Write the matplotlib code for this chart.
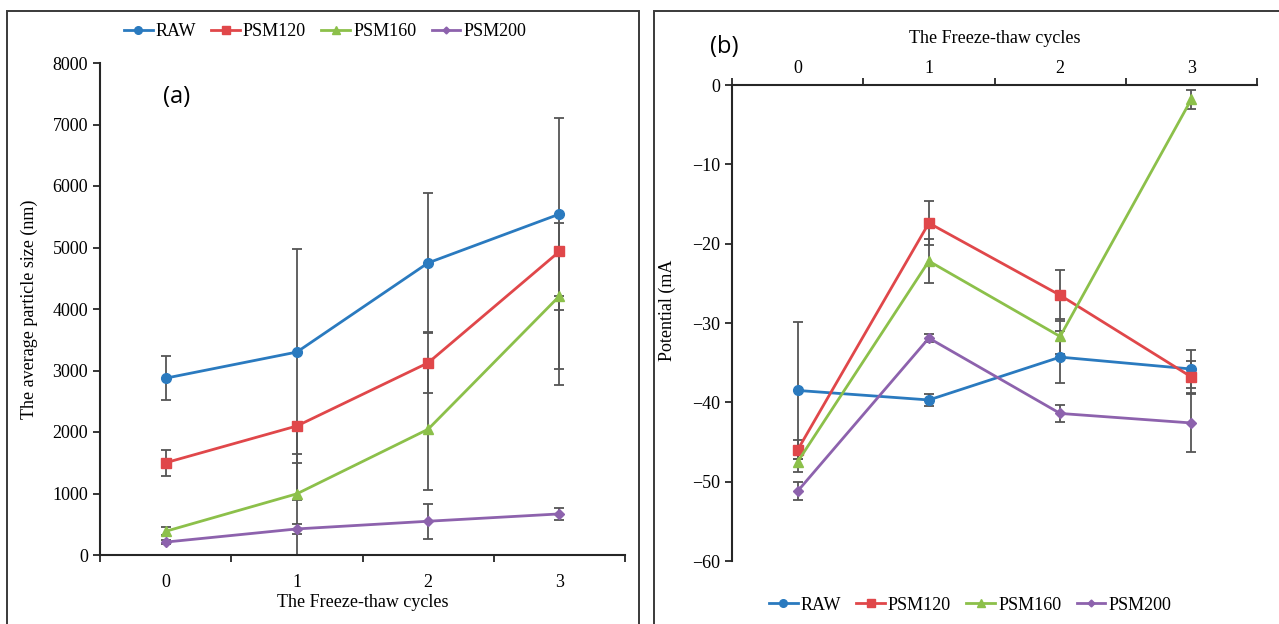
import matplotlib
matplotlib.use('Agg')
import matplotlib.pyplot as plt
from matplotlib.patches import Rectangle
from matplotlib.lines import Line2D
import numpy as np

plt.rcParams['font.family'] = ['Liberation Serif', 'DejaVu Serif']

cycles = [0, 1, 2, 3]
series = ['RAW', 'PSM120', 'PSM160', 'PSM200']
colors = ['#2a7abf', '#e0474a', '#8cc04a', '#8d62ad']
markers = ['o', 's', '^', 'D']
msizes = [7, 7, 7, 5]

# (a) average particle size (nm)
size_raw = [2875, 3300, 4750, 5543]
size_120 = [1500, 2098, 3125, 4935]
size_160 = [385, 995, 2045, 4210]
size_200 = [210, 424, 549, 668]
size_lo = [[360, 3300, 1130, 1565],
           [210, 610, 490, 1915],
           [65, 104, 995, 1450],
           [30, 76, 285, 95]]
size_hi = [[360, 1670, 1130, 1565],
           [210, 0, 490, 465],
           [65, 650, 995, 0],
           [30, 76, 285, 95]]

# (b) potential
pot_raw = [-38.5, -39.7, -34.3, -35.8]
pot_120 = [-46.0, -17.4, -26.5, -36.8]
pot_160 = [-47.5, -22.2, -31.7, -1.8]
pot_200 = [-51.2, -31.9, -41.4, -42.6]
pot_err = [[8.6, 0.7, 3.3, 2.4],
           [1.2, 2.8, 3.2, 2.0],
           [1.3, 2.8, 2.2, 1.2],
           [1.1, 0.5, 1.1, 3.7]]

size_vals = [size_raw, size_120, size_160, size_200]
pot_vals = [pot_raw, pot_120, pot_160, pot_200]

W, H = 1279, 624
fig = plt.figure(figsize=(W / 100, H / 100), dpi=100)

# panel frames
fig.patches.append(Rectangle((7 / W, -0.05), (638.5 - 7) / W, 1.05 - 10.7 / H,
                             transform=fig.transFigure, fill=False,
                             edgecolor='#3a3a3a', lw=1.4))
fig.patches.append(Rectangle((654 / W, -0.05), 1.0, 1.05 - 10.5 / H,
                             transform=fig.transFigure, fill=False,
                             edgecolor='#3a3a3a', lw=1.4))

ax1 = fig.add_axes([100 / W, (H - 555) / H, 525 / W, (555 - 63) / H])
ax2 = fig.add_axes([732 / W, (H - 561) / H, 525 / W, (561 - 85) / H])

ecol = '#555555'
for i in range(4):
    ax1.errorbar(cycles, size_vals[i], yerr=[size_lo[i], size_hi[i]], color=colors[i],
                 marker=markers[i], ms=msizes[i], lw=2, ecolor=ecol, elinewidth=1.3,
                 capsize=3.5, capthick=1.3, label=series[i])
    ax2.errorbar(cycles, pot_vals[i], yerr=pot_err[i], color=colors[i],
                 marker=markers[i], ms=msizes[i], lw=2, ecolor=ecol, elinewidth=1.3,
                 capsize=3.5, capthick=1.3, label=series[i])

for ax in (ax1, ax2):
    ax.set_xlim(-0.5, 3.5)
    ax.set_xticks(cycles)
    ax.set_xticks(np.arange(-0.5, 3.6, 1), minor=True)
    ax.tick_params(axis='x', which='major', length=0, labelsize=13)
    ax.tick_params(axis='x', which='minor', length=5, width=1.3, direction='out', color='#262626')
    ax.tick_params(axis='y', length=5, width=1.3, direction='out', labelsize=13, color='#262626')
    for s in ax.spines.values():
        s.set_linewidth(1.5)
        s.set_color('#262626')

ax1.set_ylim(0, 8000)
ax1.set_yticks(range(0, 8001, 1000))
ax1.tick_params(axis='x', which='major', pad=14)
ax1.spines['top'].set_visible(False)
ax1.spines['right'].set_visible(False)
ax1.set_xlabel('The Freeze-thaw cycles', fontsize=13, labelpad=1.5)
ax1.set_ylabel('The average particle size (nm)', fontsize=13)
ax1.yaxis.set_label_coords(-0.118, 0.5)
ax1.text(0.145, 0.93, '(a)', transform=ax1.transAxes, fontsize=17,
         family=['Open Sans', 'DejaVu Sans'], ha='center', va='center')

ax2.set_ylim(-60, 0)
ax2.set_yticks(range(-60, 1, 10))
ax2.xaxis.tick_top()
ax2.xaxis.set_label_position('top')
ax2.tick_params(axis='x', which='major', pad=5.5)
ax2.spines['bottom'].set_visible(False)
ax2.spines['right'].set_visible(False)
ax2.set_xlabel('The Freeze-thaw cycles', fontsize=13, labelpad=12.5)
ax2.set_ylabel('Potential (mA', fontsize=13)
ax2.yaxis.set_label_coords(-0.107, 0.527)
fig.text(724 / W, 1 - 47 / H, '(b)', fontsize=17, family=['Open Sans', 'DejaVu Sans'],
         ha='center', va='center')

handles = [Line2D([], [], color=colors[i], marker=markers[i], ms=msizes[i] - 1.5, lw=2)
           for i in range(4)]
leg_kw = dict(ncol=4, frameon=False, fontsize=13, handlelength=1.6, handletextpad=0.15,
              columnspacing=0.85, borderaxespad=0)
fig.legend(handles, series, loc='center', bbox_to_anchor=(325 / W, 1 - 32 / H), **leg_kw)
fig.legend(handles, series, loc='center', bbox_to_anchor=(970 / W, 1 - 605 / H), **leg_kw)

fig.savefig('out.png', dpi=100)
